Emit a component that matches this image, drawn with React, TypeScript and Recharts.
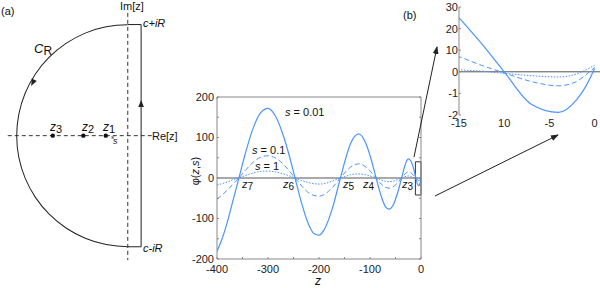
import React from "react";
import {
  LineChart,
  Line,
  XAxis,
  YAxis,
  ReferenceLine,
  ReferenceArea,
  ScatterChart,
  Scatter,
  PieChart,
  Pie,
} from "recharts";

// phi(z, s), three values of s
const zValues = [
  -400, -390, -380, -370, -357, -345, -330, -315, -300, -285, -270, -260, -247, -235, -222,
  -210, -200, -190, -175, -158, -148, -138, -122, -108, -98, -88, -78, -70, -63, -55, -46,
  -38, -32, -25, -20, -15, -12.5, -10, -7, -4, -2, -1, 0,
];
const phiS001 = [
  -181, -150, -110, -62, 0, 58, 120, 160, 172, 152, 105, 63, 0, -58, -110, -137, -141, -128,
  -80, 0, 47, 85, 109, 85, 47, 0, -45, -70, -77, -68, -37, 0, 29, 47, 42, 25, 13, 0, -15,
  -18.8, -13, -7, 1.5,
];
const phiS01 = [
  -52, -42, -30, -17, 0, 18, 38, 51, 55, 49, 34, 20, 0, -18, -35, -43, -45, -41, -25, 0, 15,
  27, 35, 27, 15, 0, -15, -23, -25, -22, -12, 0, 9, 15, 13, 7, 3, -0.5, -4.5, -6.5, -4.5,
  -1.5, 2,
];
const phiS1 = [
  -17, -14, -10, -5, 0, 6, 12, 16, 17, 15, 10, 6, 0, -6, -11, -14, -15, -14, -8, 0, 4, 8, 10,
  8, 4, 0, -5, -8, -9, -8, -4, 0, 3, 5, 4, 1, 0.3, -0.7, -1.8, -2.4, -1, 0.8, 3,
];

const mainXTicks = [-400, -350, -300, -250, -200, -150, -100, -50, 0];
const mainYTicks = [-200, -150, -100, -50, 0, 50, 100, 150, 200];
const insetXTicks = [-15, -10, -5, 0];
const insetYTicks = [-20, -10, 0, 10, 20, 30];
const insetXLabels: Record<string, string> = { "-15": "-15", "-10": "10", "-5": "-5", "0": "0" };
const insetYLabels: Record<string, string> = {
  "30": "30", "20": "20", "10": "10", "0": "0", "-10": "-1", "-20": "-2",
};

// contour sketch (a), R = 100
const poleRe = [-19.8, -40, -67.5];
const contourC = 12;
const arcData = [{ value: 1 }];
const arcArrow = [{ x: -87, y: 44.7 }];
const lineArrow = [{ x: 12, y: 32 }];

const table = zValues.map((z, i) => ({ z, s001: phiS001[i], s01: phiS01[i], s1: phiS1[i] }));
const poles = poleRe.map((x) => ({ x, y: 0 }));

const BLUE = "#4d94ff";
const FRAME = "#888";
const tickStyle = { fill: "#222", fontSize: 11 };
const everyHundred = (v: number) => (v % 100 === 0 ? `${v}` : "");

const Dot = (p: any) => <circle cx={p.cx} cy={p.cy} r={2.2} fill="#111" />;
const arrowShape = (deg: number) => (p: any) => {
  const a = (deg * Math.PI) / 180;
  const ux = Math.cos(a);
  const uy = Math.sin(a);
  const bx = p.cx - 7 * ux;
  const by = p.cy - 7 * uy;
  const pts = `${p.cx},${p.cy} ${bx - 2.8 * uy},${by + 2.8 * ux} ${bx + 2.8 * uy},${by - 2.8 * ux}`;
  return <polygon points={pts} fill="#222" />;
};
const ArcArrow = arrowShape(117);
const UpArrow = arrowShape(-90);

function Series() {
  return [
    <Line key="a" dataKey="s001" stroke={BLUE} strokeWidth={1.2} dot={false} type="monotone" isAnimationActive={false} />,
    <Line key="b" dataKey="s01" stroke={BLUE} strokeWidth={1} strokeDasharray="5 3" dot={false} type="monotone" isAnimationActive={false} />,
    <Line key="c" dataKey="s1" stroke={BLUE} strokeWidth={1} strokeDasharray="1.5 1.5" dot={false} type="monotone" isAnimationActive={false} />,
  ];
}

function Sub({ x, y, base, sub, size = 11 }: { x: number; y: number; base: string; sub: string; size?: number }) {
  return (
    <text x={x} y={y} fontSize={size} fill="#111">
      <tspan fontStyle="italic">{base}</tspan>
      <tspan dy={2} fontSize={size - 1}>{sub}</tspan>
    </text>
  );
}

export default function App() {
  return (
    <div
      style={{
        position: "absolute",
        left: 0,
        top: 0,
        width: 600,
        height: 288,
        background: "#fff",
        fontFamily: "'Liberation Sans', Arial, sans-serif",
      }}
    >
      {/* (a) contour */}
      <div style={{ position: "absolute", left: 0, top: 0 }}>
        <ScatterChart width={200} height={288} margin={{ top: 0, right: 0, bottom: 0, left: 0 }}>
          <XAxis type="number" dataKey="x" domain={[-115, 65]} hide allowDataOverflow />
          <YAxis type="number" dataKey="y" domain={[-137.1, 122.1]} hide allowDataOverflow />
          <ReferenceLine segment={[{ x: 0, y: 110.5 }, { x: 0, y: -111.9 }]} stroke="#333" strokeDasharray="4 3" />
          <ReferenceLine segment={[{ x: -108, y: 0 }, { x: 21.6, y: 0 }]} stroke="#333" strokeDasharray="4 3" />
          <ReferenceLine segment={[{ x: contourC, y: -100 }, { x: contourC, y: 100 }]} stroke="#222" />
          <ReferenceLine segment={[{ x: 0, y: 100 }, { x: contourC, y: 100 }]} stroke="#222" />
          <ReferenceLine segment={[{ x: 0, y: -100 }, { x: contourC, y: -100 }]} stroke="#222" />
          <Scatter data={poles} shape={Dot} isAnimationActive={false} />
          <Scatter data={arcArrow} shape={ArcArrow} isAnimationActive={false} />
          <Scatter data={lineArrow} shape={UpArrow} isAnimationActive={false} />
        </ScatterChart>
      </div>
      <div style={{ position: "absolute", left: 0, top: 0 }}>
        <PieChart width={200} height={288} margin={{ top: 0, right: 0, bottom: 0, left: 0 }}>
          <Pie
            data={arcData}
            dataKey="value"
            cx={127.7}
            cy={135.7}
            innerRadius={110.5}
            outerRadius={111.5}
            startAngle={90}
            endAngle={270}
            fill="#222"
            stroke="none"
            isAnimationActive={false}
          />
        </PieChart>
      </div>

      {/* main plot */}
      <div style={{ position: "absolute", left: 170, top: 80 }}>
        <LineChart width={260} height={200} data={table} margin={{ top: 7, right: 4, bottom: 3, left: 7 }}>
          <XAxis
            dataKey="z"
            type="number"
            domain={[-400, 0]}
            ticks={mainXTicks}
            tickFormatter={everyHundred}
            interval={0}
            height={18}
            stroke={FRAME}
            tickSize={-2}
            tickMargin={8}
            tick={tickStyle}
            allowDataOverflow
          />
          <XAxis
            xAxisId="t"
            orientation="top"
            type="number"
            domain={[-400, 0]}
            ticks={mainXTicks}
            tickFormatter={() => ""}
            interval={0}
            height={10}
            stroke={FRAME}
            tickSize={-2}
            allowDataOverflow
          />
          <YAxis
            type="number"
            domain={[-200, 200]}
            ticks={mainYTicks}
            tickFormatter={everyHundred}
            interval={0}
            width={40}
            stroke={FRAME}
            tickSize={-2}
            tickMargin={5}
            tick={tickStyle}
            allowDataOverflow
          />
          <YAxis
            yAxisId="r"
            orientation="right"
            type="number"
            domain={[-200, 200]}
            ticks={mainYTicks}
            tickFormatter={() => ""}
            interval={0}
            width={5}
            stroke={FRAME}
            tickSize={-2}
            allowDataOverflow
          />
          <ReferenceLine y={0} stroke="#555" />
          {Series()}
          <ReferenceArea x1={-11} x2={0} y1={-42} y2={40} fill="none" stroke="#333" strokeWidth={1} />
        </LineChart>
      </div>

      {/* inset (b) */}
      <div style={{ position: "absolute", left: 420, top: 0 }}>
        <LineChart width={180} height={130} data={table} margin={{ top: 7, right: 0, bottom: 0, left: 9 }}>
          <XAxis
            dataKey="z"
            type="number"
            domain={[-15, 0.6]}
            ticks={insetXTicks}
            tickFormatter={(v: number) => insetXLabels[String(v)] ?? ""}
            interval={0}
            height={15}
            axisLine={false}
            tickLine={false}
            tickSize={1}
            tickMargin={3}
            tick={tickStyle}
            allowDataOverflow
          />
          <YAxis
            type="number"
            domain={[-20, 30]}
            ticks={insetYTicks}
            tickFormatter={(v: number) => insetYLabels[String(v)] ?? ""}
            interval={0}
            width={30}
            stroke={FRAME}
            tickSize={-2}
            tickMargin={3}
            tick={tickStyle}
            allowDataOverflow
          />
          <ReferenceLine y={0} stroke="#555" />
          {Series()}
        </LineChart>
      </div>

      {/* annotations */}
      <svg
        width={600}
        height={288}
        style={{ position: "absolute", left: 0, top: 0, pointerEvents: "none" }}
      >
        <defs>
          <marker id="ah" markerWidth="8" markerHeight="6" refX="7" refY="3" orient="auto" markerUnits="userSpaceOnUse">
            <polygon points="0,0 8,3 0,6" fill="#222" />
          </marker>
        </defs>
        <text x={1} y={15} fontSize={11} fill="#111">(a)</text>
        <text x={403} y={19} fontSize={11} fill="#111">(b)</text>

        <text x={120} y={10} fontSize={11} fill="#111">Im[z]</text>
        <text x={152} y={140} fontSize={11} fill="#111">Re[z]</text>
        <text x={143} y={27} fontSize={11} fill="#111" fontStyle="italic">c+iR</text>
        <text x={143} y={252} fontSize={11} fill="#111" fontStyle="italic">c-iR</text>
        <Sub x={34} y={53} base="C" sub="R" size={13} />
        <Sub x={50} y={131} base="z" sub="3" size={12} />
        <Sub x={82} y={131} base="z" sub="2" size={12} />
        <Sub x={103} y={131} base="z" sub="1" size={12} />
        <text x={111} y={139} fontSize={6} fill="#111" fontStyle="italic">s</text>
        <text x={113} y={144} fontSize={9} fill="#111" fontStyle="italic">s</text>

        <text x={285} y={116} fontSize={11} fill="#111">
          <tspan fontStyle="italic">s</tspan> = 0.01
        </text>
        <text x={252} y={154} fontSize={11} fill="#111">
          <tspan fontStyle="italic">s</tspan> = 0.1
        </text>
        <text x={255} y={170} fontSize={11} fill="#111">
          <tspan fontStyle="italic">s</tspan> = 1
        </text>
        <Sub x={242} y={188} base="z" sub="7" />
        <Sub x={283} y={188} base="z" sub="6" />
        <Sub x={343} y={188} base="z" sub="5" />
        <Sub x={363} y={188} base="z" sub="4" />
        <Sub x={402} y={188} base="z" sub="3" />

        <text x={318} y={285} fontSize={12} fill="#111" fontStyle="italic" textAnchor="middle">z</text>
        <text
          x={0}
          y={0}
          fontSize={11}
          fill="#111"
          textAnchor="middle"
          transform="translate(199,171) rotate(-90)"
        >
          φ(<tspan fontStyle="italic">z</tspan>,<tspan fontStyle="italic">s</tspan>)
        </text>

        <line x1={414} y1={157} x2={437} y2={47} stroke="#222" strokeWidth={1} markerEnd="url(#ah)" />
        <line x1={435} y1={196} x2={558} y2={135} stroke="#222" strokeWidth={1} markerEnd="url(#ah)" />
      </svg>
    </div>
  );
}
